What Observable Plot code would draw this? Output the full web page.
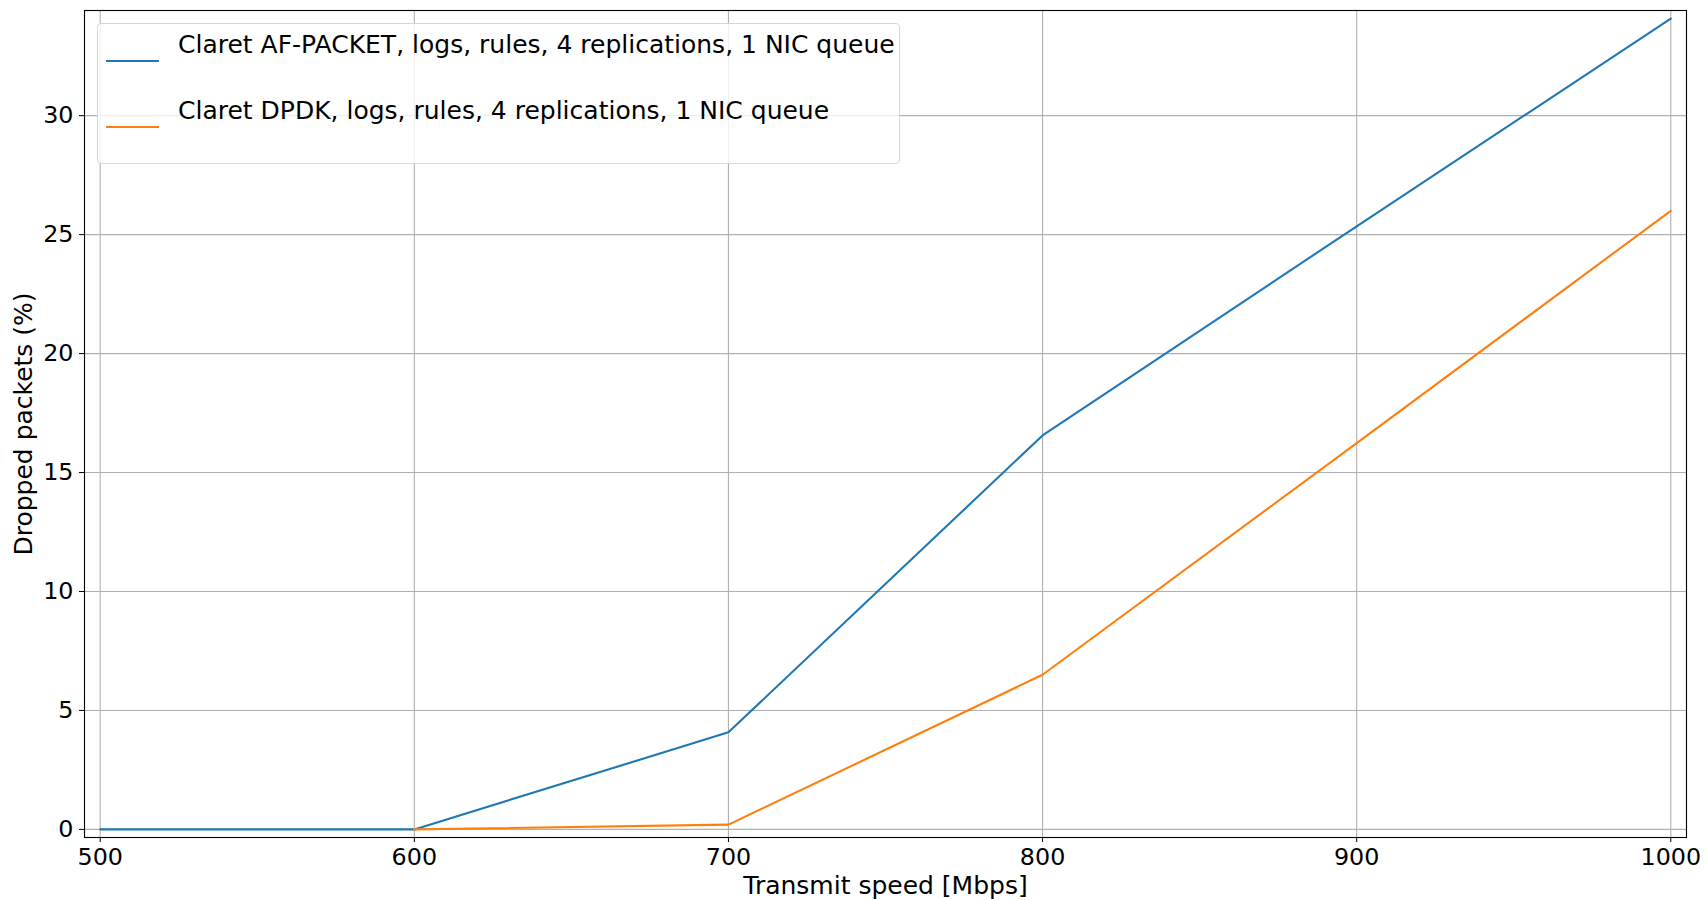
<!DOCTYPE html>
<html>
<head>
<meta charset="utf-8">
<script src="https://cdn.jsdelivr.net/npm/d3@7"></script>
<script src="https://cdn.jsdelivr.net/npm/@observablehq/plot@0.6"></script>
<style>
  html, body { margin: 0; padding: 0; background: #fff; }
  #wrap { position: relative; width: 1706px; height: 900px; font-family: "DejaVu Sans", sans-serif; }
  #legend { position: absolute; left: 97px; top: 23px; width: 803px; height: 141px;
    box-sizing: border-box; border: 1px solid #d6d6d6; border-radius: 4px; background: rgba(255,255,255,0.8); }
  #legend svg { position: absolute; left: 0; top: 0; overflow: visible; }
</style>
</head>
<body>
<div id="wrap"></div>
<script>
const speeds = [500, 600, 700, 800, 900, 1000];
const afPacket = [0, 0, 4.08, 16.56, 25.35, 34.08];
const dpdk = [null, 0, 0.2, 6.5, 16.24, 26.0];
const seriesNames = [
  "Claret AF-PACKET, logs, rules, 4 replications, 1 NIC queue",
  "Claret DPDK, logs, rules, 4 replications, 1 NIC queue"
];
const seriesColors = ["#1f77b4", "#ff7f0e"];
const xTicks = [500, 600, 700, 800, 900, 1000];
const yTicks = [0, 5, 10, 15, 20, 25, 30];
const xLabel = "Transmit speed [Mbps]";
const yLabel = "Dropped packets (%)";

const rows = [];
speeds.forEach((s, i) => rows.push({series: seriesNames[0], x: s, y: afPacket[i]}));
speeds.forEach((s, i) => { if (dpdk[i] != null) rows.push({series: seriesNames[1], x: s, y: dpdk[i]}); });

const fs = 23.8;
const labelFs = 25;
const legendFs = 25;
const chart = Plot.plot({
  width: 1706,
  height: 900,
  marginLeft: 84,
  marginRight: 20,
  marginTop: 10,
  marginBottom: 63,
  style: {fontFamily: "DejaVu Sans", fontSize: fs + "px", color: "#000", background: "#fff"},
  x: {domain: [495, 1005]},
  y: {domain: [-0.34, 34.42]},
  color: {domain: seriesNames, range: seriesColors},
  marks: [
    Plot.gridX(xTicks, {stroke: "#b0b0b0", strokeOpacity: 1, strokeWidth: 1.1}),
    Plot.gridY(yTicks, {stroke: "#b0b0b0", strokeOpacity: 1, strokeWidth: 1.1}),
    Plot.line(rows.filter(d => d.series === seriesNames[0]), {x: "x", y: "y", stroke: "series", strokeWidth: 2.1}),
    Plot.line(rows.filter(d => d.series === seriesNames[1]), {x: "x", y: "y", stroke: "series", strokeWidth: 2.1}),
    Plot.frame({stroke: "#000", strokeWidth: 1.1}),
    Plot.axisX(xTicks, {tickSize: 5, tickPadding: 6, fontSize: fs, tickFormat: d => String(d), label: null}),
    Plot.axisX({ticks: [], tickSize: 0, fontSize: labelFs, label: xLabel, labelAnchor: "center", labelArrow: "none", labelOffset: 56}),
    Plot.axisY(yTicks, {tickSize: 5, tickPadding: 6, fontSize: fs, tickFormat: d => String(d), label: null}),
    Plot.axisY({ticks: [], tickSize: 0, fontSize: labelFs, label: yLabel, labelAnchor: "center", labelArrow: "none", labelOffset: 70})
  ]
});

const wrap = document.getElementById("wrap");
wrap.appendChild(chart);

// Legend
const leg = document.createElement("div");
leg.id = "legend";
const ns = "http://www.w3.org/2000/svg";
const svg = document.createElementNS(ns, "svg");
svg.setAttribute("width", 803);
svg.setAttribute("height", 141);
const rowYs = [29, 95];
seriesNames.forEach((name, i) => {
  const ln = document.createElementNS(ns, "line");
  ln.setAttribute("x1", 8); ln.setAttribute("x2", 61);
  ln.setAttribute("y1", rowYs[i] + 8); ln.setAttribute("y2", rowYs[i] + 8);
  ln.setAttribute("stroke", seriesColors[i]); ln.setAttribute("stroke-width", 2.1);
  svg.appendChild(ln);
  const t = document.createElementNS(ns, "text");
  t.setAttribute("x", 80); t.setAttribute("y", rowYs[i]);
  t.setAttribute("font-family", "DejaVu Sans");
  t.setAttribute("font-size", legendFs);
  t.setAttribute("fill", "#000");
  t.textContent = name;
  svg.appendChild(t);
});
leg.appendChild(svg);
wrap.appendChild(leg);
</script>
</body>
</html>
